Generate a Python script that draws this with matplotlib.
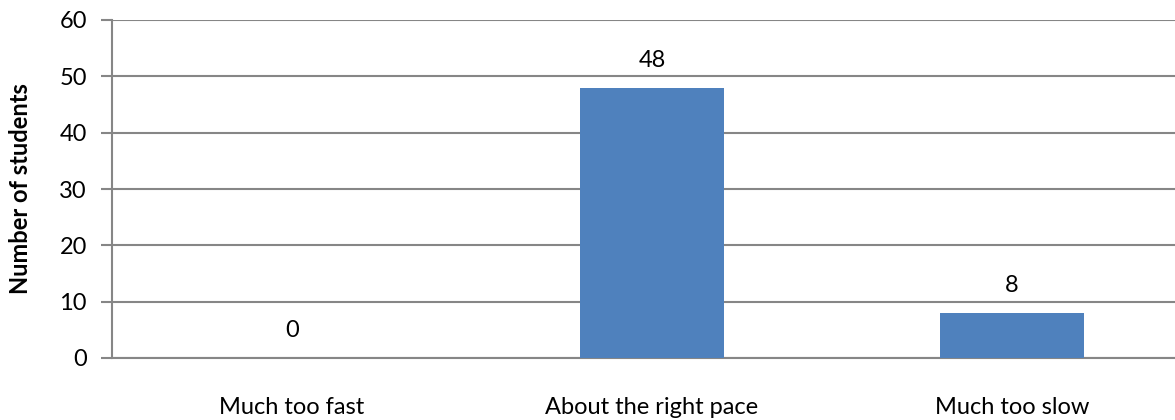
import numpy as np
import matplotlib.pyplot as plt

categories = ["Much too fast", "About the right pace", "Much too slow"]
counts = [0, 48, 8]
yticks = [0, 10, 20, 30, 40, 50, 60]

plt.rcParams['font.family'] = ['Lato', 'DejaVu Sans']

fig = plt.figure(figsize=(11.75, 4.2), dpi=100)
# axes runs a bit past the right edge of the figure
ax = fig.add_axes([112 / 1175, 62 / 420, 1080 / 1175, 338 / 420])

grey = "#868686"
fs = 17
x = np.arange(len(categories))
bars = ax.bar(x, counts, width=0.4, color="#4F81BD", zorder=3)

for xi, v in zip(x, counts):
    ax.text(xi, v + 3.0, str(v), ha="center", va="bottom", fontsize=fs, color="black")

ax.set_xlim(-0.5, 2.5)
ax.set_ylim(0, 60)
ax.set_yticks(yticks)
ax.set_xticks(x)
ax.set_xticklabels(categories, fontsize=fs)
ax.tick_params(axis="y", labelsize=fs, length=8, width=1.5, color=grey, pad=10)
ax.tick_params(axis="x", length=0, pad=28)
ax.yaxis.grid(True, color=grey, linewidth=1.5, zorder=0)

for side in ["top", "right"]:
    ax.spines[side].set_visible(False)
for side in ["left", "bottom"]:
    ax.spines[side].set_color(grey)
    ax.spines[side].set_linewidth(1.5)

ax.set_ylabel("Number of students", fontsize=fs, fontweight="bold")
ax.yaxis.set_label_coords(-0.074, 0.5)

fig.savefig("out.png", dpi=100)
